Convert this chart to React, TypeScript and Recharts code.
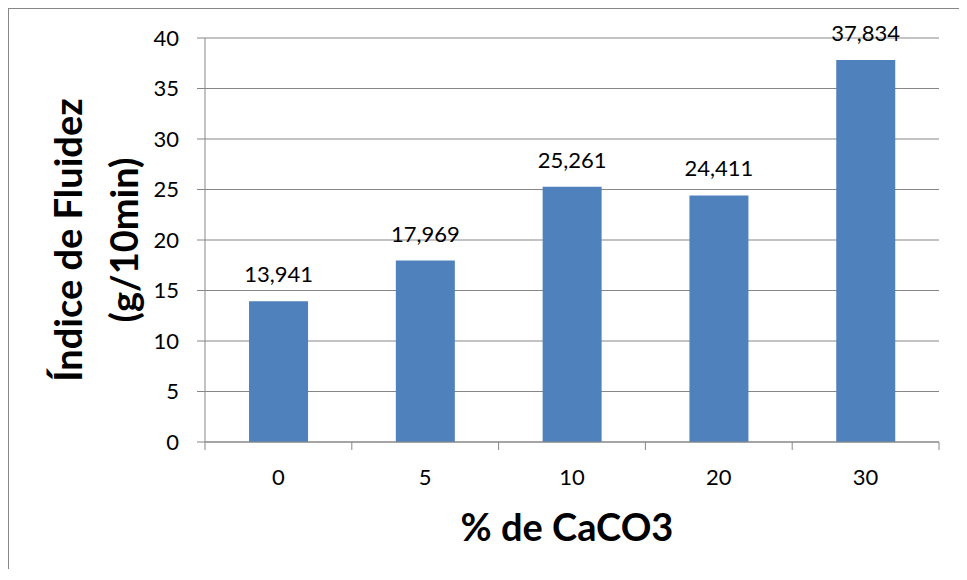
import { BarChart, Bar, XAxis, YAxis, CartesianGrid, LabelList, Label } from "recharts"

const categories = ["0", "5", "10", "20", "30"]
const fluidez = [13.941, 17.969, 25.261, 24.411, 37.834]
const yTicks = [0, 5, 10, 15, 20, 25, 30, 35, 40]

const data = categories.map((c, i) => ({ caco3: c, fluidez: fluidez[i] }))

const FONT = "Lato, 'Open Sans', sans-serif"
const GRID = "#878787"
const BAR = "#4F81BD"
const X_TICK_SIZE = 8
const X_TICK_MARGIN = 20

const fmt = (v: number) => v.toFixed(3).replace(".", ",")

function CategoryTick(props: any) {
    const { x, y, payload, index, visibleTicksCount } = props
    const half = payload.offset ?? 0
    const axisY = y - X_TICK_SIZE - X_TICK_MARGIN
    const last = index === visibleTicksCount - 1
    return (
        <g>
            <line x1={x - half} x2={x - half} y1={axisY} y2={axisY + X_TICK_SIZE} stroke={GRID} />
            {last && <line x1={x + half} x2={x + half} y1={axisY} y2={axisY + X_TICK_SIZE} stroke={GRID} />}
            <text x={x} y={y} dy="0.7em" textAnchor="middle" fill="#000" fontSize={22} fontFamily={FONT}>
                {payload.value}
            </text>
        </g>
    )
}

function YTitle(props: any) {
    const { viewBox } = props
    const cy = viewBox.y + viewBox.height / 2
    const style = { fontFamily: FONT, fontWeight: 700, fontSize: 38, fill: "#000" }
    return (
        <g>
            <text x={58} y={cy} transform={`rotate(-90 58 ${cy})`} textAnchor="middle" dominantBaseline="central" style={style}>
                Índice de Fluidez
            </text>
            <text x={114} y={cy} transform={`rotate(-90 114 ${cy})`} textAnchor="middle" dominantBaseline="central" style={style}>
                (g/10min)
            </text>
        </g>
    )
}

export default function App() {
    return (
        <div style={{ width: 959, height: 560, borderTop: `1px solid ${GRID}`, borderLeft: `1px solid ${GRID}`, background: "#fff" }}>
            <BarChart width={950} height={560} data={data} margin={{ top: 29, right: 20, left: 0, bottom: 0 }} barCategoryGap="30%">
                <CartesianGrid vertical={false} stroke={GRID} />
                <XAxis
                    dataKey="caco3"
                    height={127}
                    axisLine={{ stroke: GRID }}
                    tickLine={false}
                    tickSize={X_TICK_SIZE}
                    tickMargin={X_TICK_MARGIN}
                    tick={<CategoryTick />}
                    interval={0}
                >
                    <Label
                        value="% de CaCO3"
                        position="insideBottom"
                        offset={28}
                        dx={-5}
                        style={{ fontFamily: FONT, fontWeight: 700, fontSize: 38, fill: "#000" }}
                    />
                </XAxis>
                <YAxis
                    width={196}
                    domain={[0, 40]}
                    ticks={yTicks}
                    interval={0}
                    axisLine={{ stroke: GRID }}
                    tickLine={{ stroke: GRID }}
                    tickSize={8}
                    tickMargin={18}
                    tick={{ fill: "#000", fontSize: 22, fontFamily: FONT }}
                >
                    <Label content={<YTitle />} />
                </YAxis>
                <Bar dataKey="fluidez" fill={BAR} isAnimationActive={false}>
                    <LabelList
                        dataKey="fluidez"
                        position="top"
                        offset={19}
                        formatter={(v: any) => fmt(Number(v))}
                        style={{ fill: "#000", fontSize: 22, fontFamily: FONT }}
                    />
                </Bar>
            </BarChart>
        </div>
    )
}
